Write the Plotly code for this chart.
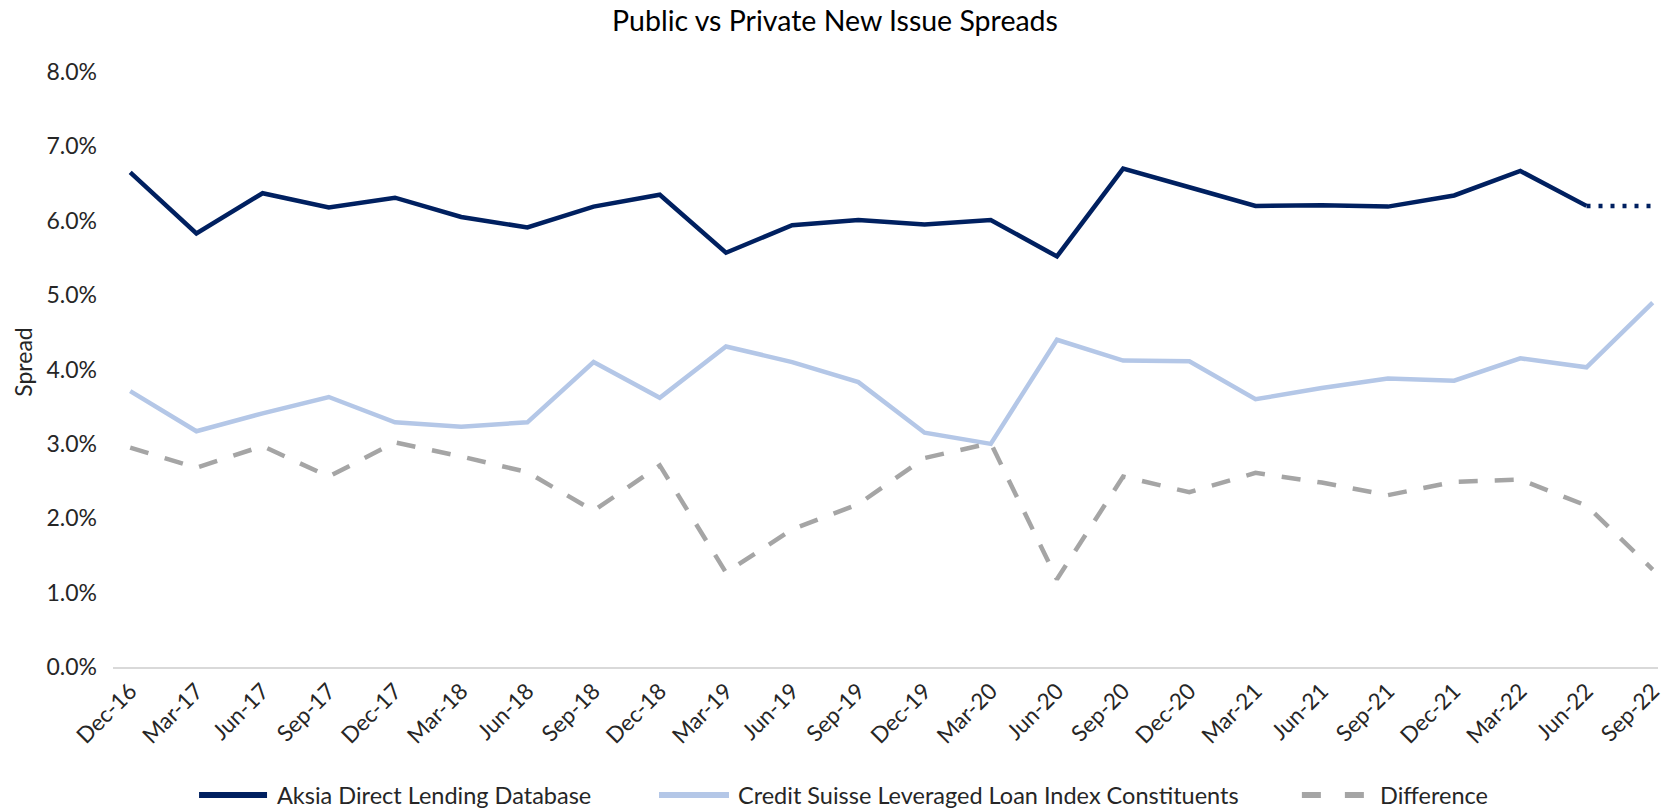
import plotly.graph_objects as go

# Quarter-end labels
quarters = ["Dec-16", "Mar-17", "Jun-17", "Sep-17", "Dec-17", "Mar-18", "Jun-18", "Sep-18",
            "Dec-18", "Mar-19", "Jun-19", "Sep-19", "Dec-19", "Mar-20", "Jun-20", "Sep-20",
            "Dec-20", "Mar-21", "Jun-21", "Sep-21", "Dec-21", "Mar-22", "Jun-22", "Sep-22"]

# Spreads in percent; the private series has no Sep-22 reading
aksia = [6.65, 5.83, 6.37, 6.18, 6.31, 6.05, 5.91, 6.19, 6.35, 5.57, 5.94, 6.01,
         5.95, 6.01, 5.52, 6.70, 6.45, 6.20, 6.21, 6.19, 6.34, 6.67, 6.20, None]
credit_suisse = [3.71, 3.17, 3.41, 3.63, 3.29, 3.23, 3.29, 4.10, 3.62, 4.31, 4.10, 3.83,
                 3.15, 3.00, 4.40, 4.12, 4.11, 3.60, 3.75, 3.88, 3.85, 4.15, 4.03, 4.90]
difference = [2.95, 2.68, 2.97, 2.56, 3.02, 2.83, 2.62, 2.10, 2.71, 1.27, 1.85, 2.19,
              2.81, 3.01, 1.18, 2.56, 2.35, 2.61, 2.48, 2.31, 2.49, 2.52, 2.17, 1.31]

series_names = ["Aksia Direct Lending Database",
                "Credit Suisse Leveraged Loan Index Constituents",
                "Difference"]

# Carry the last private reading forward as a dotted estimate
aksia_carry_labels = quarters[-2:]
aksia_carry = [aksia[-2], aksia[-2]]

pct = [v / 100 if v is not None else None for v in aksia]
cs = [v / 100 for v in credit_suisse]
diff = [v / 100 for v in difference]
carry = [v / 100 for v in aksia_carry]

NAVY = "#002060"
LIGHT = "#B4C7E7"
GREY = "#A5A5A5"
TEXT = "#262626"
FONT = "Lato"
DIFF_DASH = "19px,17px"

fig = go.Figure()
fig.add_trace(go.Scatter(x=quarters, y=pct, mode="lines", name=series_names[0],
                         line=dict(color=NAVY, width=4.5), showlegend=False))
fig.add_trace(go.Scatter(x=quarters, y=cs, mode="lines", name=series_names[1],
                         line=dict(color=LIGHT, width=4.5), showlegend=False))
fig.add_trace(go.Scatter(x=quarters, y=diff, mode="lines", name=series_names[2],
                         line=dict(color=GREY, width=4.5, dash=DIFF_DASH), showlegend=False))
fig.add_trace(go.Scatter(x=aksia_carry_labels, y=carry, mode="lines", showlegend=False,
                         line=dict(color=NAVY, width=4.5, dash="4px,8px")))

# Legend row below the axis: a long line sample followed by its label
legend_y = -0.215
legend_items = [
    (series_names[0], NAVY, "solid", 0.0557, 0.0997, 0.1049),
    (series_names[1], LIGHT, "solid", 0.3534, 0.3987, 0.4035),
    (series_names[2], GREY, "19px,24px", 0.7695, 0.8097, 0.8189),
]
shapes = []
annotations = []
for name, color, dash, x0, x1, xt in legend_items:
    shapes.append(dict(type="line", xref="paper", yref="paper",
                       x0=x0, x1=x1, y0=legend_y, y1=legend_y,
                       line=dict(color=color, width=6, dash=dash)))
    annotations.append(dict(text=name, xref="paper", yref="paper", x=xt, y=legend_y,
                            xanchor="left", yanchor="middle", showarrow=False,
                            font=dict(family=FONT, size=23.5, color=TEXT)))

annotations.append(dict(text="Spread", textangle=-90, xref="paper", yref="paper",
                        x=-0.058, y=0.512, xanchor="center", yanchor="middle",
                        showarrow=False, font=dict(family=FONT, size=23, color=TEXT)))

fig.update_layout(
    width=1675, height=811,
    paper_bgcolor="white", plot_bgcolor="white",
    margin=dict(l=113, r=17, t=72, b=144),
    font=dict(family=FONT, color=TEXT, size=22),
    title=dict(text="Public vs Private New Issue Spreads", x=0.4985, xanchor="center",
               y=0.974, yanchor="middle", font=dict(family=FONT, size=28.5, color="black")),
    showlegend=False,
    shapes=shapes,
    annotations=annotations,
)
fig.update_xaxes(
    type="category", range=[-0.26, 23.08], automargin=False,
    showgrid=False, showline=True, linecolor="#D9D9D9", linewidth=2,
    ticks="", tickangle=-45, tickfont=dict(family=FONT, size=22.5, color=TEXT),
    zeroline=False,
)
fig.update_yaxes(
    range=[0, 0.08], dtick=0.01, tickformat=".1%", automargin=False,
    showgrid=False, zeroline=False, showline=False, ticks="",
    ticklabelstandoff=15,
    tickfont=dict(family=FONT, size=23, color=TEXT),
)

fig.write_html("out.html")
